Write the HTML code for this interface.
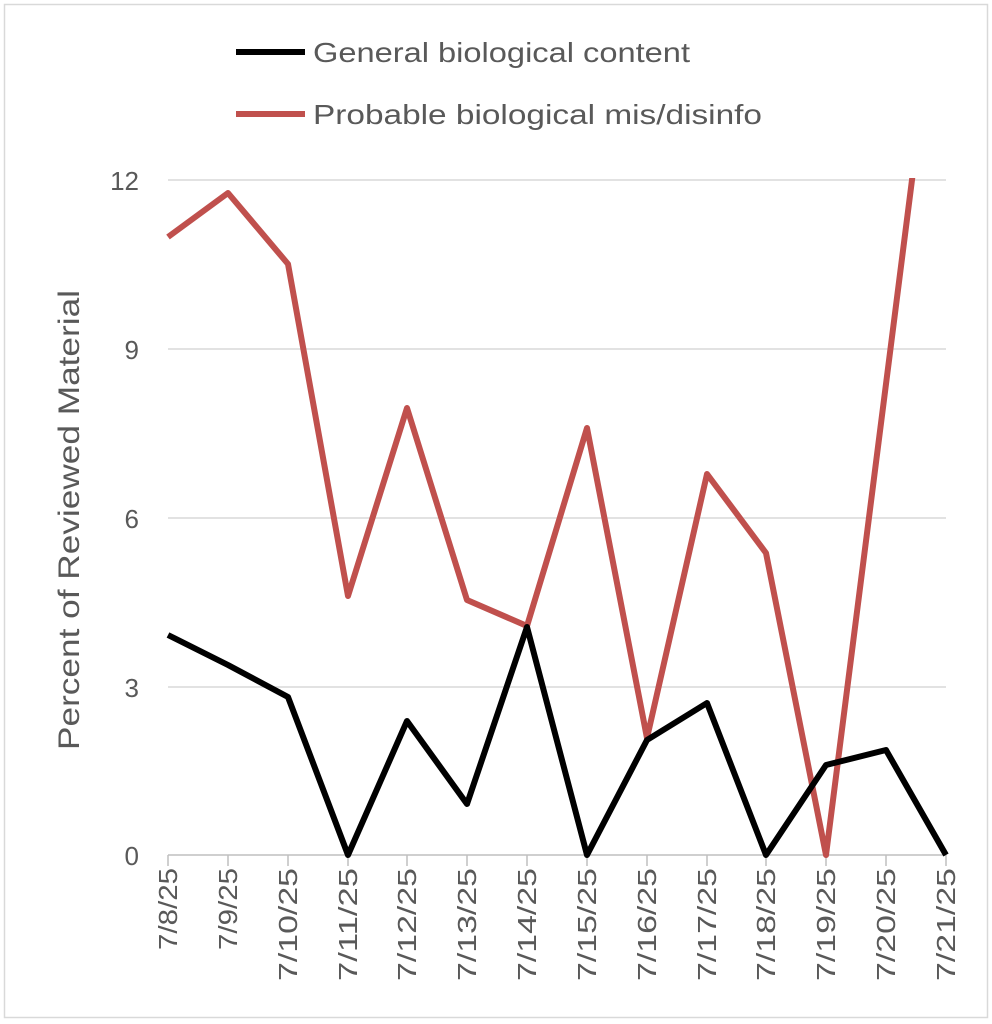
<!DOCTYPE html>
<html><head><meta charset="utf-8"><style>
html,body{margin:0;padding:0;background:#fff;}
svg{display:block;font-family:"Liberation Sans",sans-serif;}
</style></head><body>
<svg width="992" height="1024" viewBox="0 0 992 1024">
<rect x="4.5" y="4.5" width="983" height="1013" fill="#fff" stroke="#d9d9d9" stroke-width="1.5"/>
<g stroke="#d9d9d9" stroke-width="1.5">
<line x1="168" y1="180" x2="946" y2="180"/>
<line x1="168" y1="349" x2="946" y2="349"/>
<line x1="168" y1="518" x2="946" y2="518"/>
<line x1="168" y1="687" x2="946" y2="687"/>
</g>
<g stroke="#bfbfbf" stroke-width="1.5">
<line x1="168" y1="855" x2="946" y2="855"/>
<line x1="168" y1="855" x2="168" y2="866"/><line x1="228" y1="855" x2="228" y2="866"/><line x1="288" y1="855" x2="288" y2="866"/><line x1="348" y1="855" x2="348" y2="866"/><line x1="407" y1="855" x2="407" y2="866"/><line x1="467" y1="855" x2="467" y2="866"/><line x1="527" y1="855" x2="527" y2="866"/><line x1="587" y1="855" x2="587" y2="866"/><line x1="647" y1="855" x2="647" y2="866"/><line x1="707" y1="855" x2="707" y2="866"/><line x1="766" y1="855" x2="766" y2="866"/><line x1="826" y1="855" x2="826" y2="866"/><line x1="886" y1="855" x2="886" y2="866"/><line x1="946" y1="855" x2="946" y2="866"/>
</g>
<g fill="#595959" font-size="26" text-anchor="end">
<text x="139" y="190">12</text><text x="139" y="359">9</text><text x="139" y="528">6</text><text x="139" y="697">3</text><text x="139" y="865">0</text>
</g>
<text transform="translate(79,520) rotate(-90)" text-anchor="middle" fill="#595959" font-size="30" textLength="460" lengthAdjust="spacingAndGlyphs">Percent of Reviewed Material</text>
<g fill="#595959" font-size="26" text-anchor="end" lengthAdjust="spacingAndGlyphs">
<text transform="translate(177,868) rotate(-90)" textLength="82" lengthAdjust="spacingAndGlyphs">7/8/25</text>
<text transform="translate(237,868) rotate(-90)" textLength="82" lengthAdjust="spacingAndGlyphs">7/9/25</text>
<text transform="translate(297,868) rotate(-90)" textLength="113" lengthAdjust="spacingAndGlyphs">7/10/25</text>
<text transform="translate(357,868) rotate(-90)" textLength="113" lengthAdjust="spacingAndGlyphs">7/11/25</text>
<text transform="translate(416,868) rotate(-90)" textLength="113" lengthAdjust="spacingAndGlyphs">7/12/25</text>
<text transform="translate(476,868) rotate(-90)" textLength="113" lengthAdjust="spacingAndGlyphs">7/13/25</text>
<text transform="translate(536,868) rotate(-90)" textLength="113" lengthAdjust="spacingAndGlyphs">7/14/25</text>
<text transform="translate(596,868) rotate(-90)" textLength="113" lengthAdjust="spacingAndGlyphs">7/15/25</text>
<text transform="translate(656,868) rotate(-90)" textLength="113" lengthAdjust="spacingAndGlyphs">7/16/25</text>
<text transform="translate(716,868) rotate(-90)" textLength="113" lengthAdjust="spacingAndGlyphs">7/17/25</text>
<text transform="translate(775,868) rotate(-90)" textLength="113" lengthAdjust="spacingAndGlyphs">7/18/25</text>
<text transform="translate(835,868) rotate(-90)" textLength="113" lengthAdjust="spacingAndGlyphs">7/19/25</text>
<text transform="translate(895,868) rotate(-90)" textLength="113" lengthAdjust="spacingAndGlyphs">7/20/25</text>
<text transform="translate(955,868) rotate(-90)" textLength="113" lengthAdjust="spacingAndGlyphs">7/21/25</text>
</g>
<defs><clipPath id="c"><rect x="150" y="178" width="820" height="700"/></clipPath></defs>
<g clip-path="url(#c)" fill="none" stroke-width="6" stroke-linejoin="round">
<polyline stroke="#c0504d" points="168,237 228,193 288,264 348,596 407,408 467,600 527,626 587,428 647,738 707,474 766,553 826,855 946,-87"/>
<polyline stroke="#000" points="168,635 228,665 288,697 348,855 407,721 467,804 527,627 587,855 647,740 707,703 766,855 826,765 886,750 946,855"/>
</g>
<line x1="236" y1="52" x2="305" y2="52" stroke="#000" stroke-width="6"/>
<text x="313" y="62" fill="#595959" font-size="28" textLength="377" lengthAdjust="spacingAndGlyphs">General biological content</text>
<line x1="236" y1="114" x2="305" y2="114" stroke="#c0504d" stroke-width="6"/>
<text x="313" y="124" fill="#595959" font-size="28" textLength="449" lengthAdjust="spacingAndGlyphs">Probable biological mis/disinfo</text>
</svg>
</body></html>
